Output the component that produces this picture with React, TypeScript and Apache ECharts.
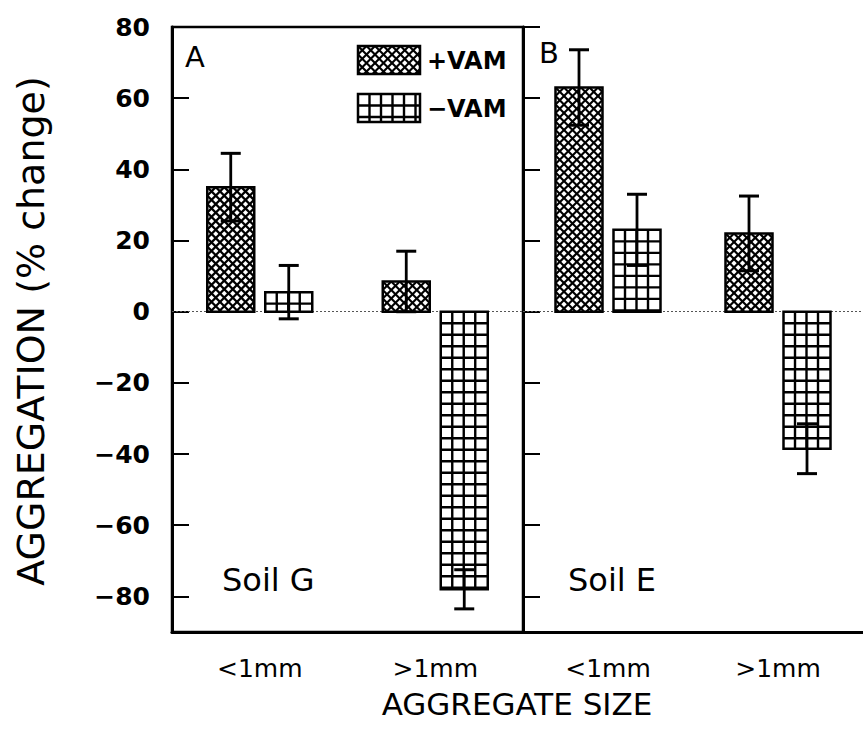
import { useEffect, useRef } from 'react';
import * as echarts from 'echarts';

const categories = ['<1mm', '>1mm'];
const yTickValues = [-80, -60, -40, -20, 0, 20, 40, 60, 80];
const seriesNames = ['+VAM', '−VAM'];
const soilGPlusVam = [35, 8.5];
const soilGPlusVamErr = [9.5, 8.5];
const soilGMinusVam = [5.5, -78];
const soilGMinusVamErr = [7.5, 5.5];
const soilEPlusVam = [63, 22];
const soilEPlusVamErr = [10.6, 10.5];
const soilEMinusVam = [23, -38.5];
const soilEMinusVamErr = [10, 7];
const panelLabels = ['A', 'B'];
const soilLabels = ['Soil G', 'Soil E'];
const xTitle = 'AGGREGATE SIZE';
const yTitle = 'AGGREGATION (% change)';

const FONT = '"DejaVu Sans", "Liberation Sans", sans-serif';
const BAR_WIDTH = 47;
const BAR_GAP = 11;
const BAR_OFFSET = (BAR_WIDTH + BAR_GAP) / 2;
const CAP = 10;
const DIAG_PERIOD = 8.5;
const GRID_PERIOD = 11.5;

type Pattern = 'cross' | 'grid';

function line(x1: number, y1: number, x2: number, y2: number, w: number) {
  return { type: 'line', shape: { x1, y1, x2, y2 }, style: { stroke: '#000', lineWidth: w } };
}

// pattern lines clipped analytically to the rectangle
function patternRect(x0: number, y0: number, w: number, h: number, kind: Pattern) {
  const out: any[] = [{ type: 'rect', shape: { x: x0, y: y0, width: w, height: h }, style: { fill: '#fff', stroke: null } }];
  if (kind === 'grid') {
    for (let u = GRID_PERIOD; u < w - 1; u += GRID_PERIOD) out.push(line(x0 + u, y0, x0 + u, y0 + h, 2.4));
    for (let v = GRID_PERIOD; v < h - 1; v += GRID_PERIOD) out.push(line(x0, y0 + v, x0 + w, y0 + v, 2.4));
  } else {
    const P = DIAG_PERIOD;
    // u - v = c
    for (let c = -Math.ceil(h / P) * P; c <= w; c += P) {
      const uStart = Math.max(0, c);
      const uEnd = Math.min(w, h + c);
      if (uEnd > uStart) out.push(line(x0 + uStart, y0 + uStart - c, x0 + uEnd, y0 + uEnd - c, 2.2));
    }
    // u + v = c
    for (let c = 0; c <= w + h; c += P) {
      const uStart = Math.max(0, c - h);
      const uEnd = Math.min(w, c);
      if (uEnd > uStart) out.push(line(x0 + uStart, y0 + c - uStart, x0 + uEnd, y0 + c - uEnd, 2.2));
    }
  }
  out.push({ type: 'rect', shape: { x: x0, y: y0, width: w, height: h }, style: { fill: null, stroke: '#000', lineWidth: 2.5 } });
  return out;
}

function barSeries(name: string, gridIdx: number, values: number[], kind: Pattern, side: number, withZero: boolean) {
  const s: any = {
    type: 'custom',
    name,
    xAxisIndex: gridIdx,
    yAxisIndex: gridIdx,
    z: 3,
    encode: { x: 0, y: 1 },
    data: values.map((v, i) => [i, v]),
    renderItem: (_params: any, api: any) => {
      const cat = api.value(0);
      const base = api.coord([cat, 0]);
      const end = api.coord([cat, api.value(1)]);
      const cx = base[0] + side * BAR_OFFSET;
      const y0 = Math.min(base[1], end[1]);
      const h = Math.abs(base[1] - end[1]);
      return { type: 'group', children: patternRect(cx - BAR_WIDTH / 2, y0, BAR_WIDTH, h, kind) };
    },
  };
  if (withZero) {
    s.markLine = {
      silent: true,
      symbol: ['none', 'none'],
      label: { show: false },
      lineStyle: { type: [2, 2], color: '#555', width: 1 },
      data: [{ yAxis: 0 }],
      z: 1,
    };
  }
  return s;
}

function errorSeries(gridIdx: number, means: number[], errs: number[], side: number) {
  return {
    type: 'custom',
    name: 'err',
    xAxisIndex: gridIdx,
    yAxisIndex: gridIdx,
    z: 5,
    encode: { x: 0, y: [1, 2] },
    data: means.map((m, i) => [i, m - errs[i], m + errs[i]]),
    renderItem: (_params: any, api: any) => {
      const cat = api.value(0);
      const lo = api.coord([cat, api.value(1)]);
      const hi = api.coord([cat, api.value(2)]);
      const x = lo[0] + side * BAR_OFFSET;
      return {
        type: 'group',
        children: [
          line(x, hi[1], x, lo[1], 2.8),
          line(x - CAP, hi[1], x + CAP, hi[1], 3),
          line(x - CAP, lo[1], x + CAP, lo[1], 3),
        ],
      };
    },
  };
}

function yAxis(gridIdx: number, showLabels: boolean) {
  return {
    type: 'value',
    gridIndex: gridIdx,
    min: -90,
    max: 80,
    axisLine: { show: true, lineStyle: { color: '#000', width: 3 } },
    axisTick: { show: true, inside: true, length: 17, lineStyle: { color: '#000', width: 2 }, customValues: yTickValues },
    axisLabel: {
      show: showLabels,
      customValues: yTickValues,
      margin: 22,
      color: '#000',
      fontFamily: FONT,
      fontSize: 25,
      fontWeight: 'bold',
      formatter: (v: number) => (v < 0 ? '−' + Math.abs(v) : String(v)),
    },
    splitLine: { show: false },
  };
}

function xAxis(gridIdx: number) {
  return {
    type: 'category',
    gridIndex: gridIdx,
    data: categories,
    position: 'bottom',
    axisLine: { show: true, onZero: false, lineStyle: { color: '#000', width: 3 } },
    axisTick: { show: false },
    axisLabel: { margin: 24, color: '#000', fontFamily: FONT, fontSize: 25 },
    splitLine: { show: false },
  };
}

export default function App() {
  const ref = useRef<HTMLDivElement>(null);
  useEffect(() => {
    if (!ref.current) return;
    const chart = echarts.init(ref.current, null, { renderer: 'svg' });
    const textStyle = (size: number, weight = 'normal') => ({
      font: `${weight} ${size}px ${FONT}`,
      fill: '#000',
    });
    const legendItems = seriesNames.map((name, i) => ({
      type: 'group',
      x: 358,
      y: 46 + i * 48,
      children: [
        ...patternRect(0, 0, 62, 28, i === 0 ? 'cross' : 'grid'),
        { type: 'text', x: 69, y: 15, style: { ...textStyle(24, 'bold'), text: name, textAlign: 'left', textVerticalAlign: 'middle' } },
      ],
    }));
    chart.setOption({
      animation: false,
      backgroundColor: '#ffffff',
      grid: [
        { left: 172, top: 27, width: 351, height: 605, show: true, borderColor: '#000', borderWidth: 2.5, backgroundColor: 'transparent' },
        { left: 523, top: 27, width: 351, height: 605 },
      ],
      xAxis: [xAxis(0), xAxis(1)],
      yAxis: [yAxis(0, true), yAxis(1, false)],
      series: [
        barSeries(seriesNames[0], 0, soilGPlusVam, 'cross', -1, true),
        barSeries(seriesNames[1], 0, soilGMinusVam, 'grid', 1, false),
        barSeries(seriesNames[0], 1, soilEPlusVam, 'cross', -1, true),
        barSeries(seriesNames[1], 1, soilEMinusVam, 'grid', 1, false),
        errorSeries(0, soilGPlusVam, soilGPlusVamErr, -1),
        errorSeries(0, soilGMinusVam, soilGMinusVamErr, 1),
        errorSeries(1, soilEPlusVam, soilEPlusVamErr, -1),
        errorSeries(1, soilEMinusVam, soilEMinusVamErr, 1),
      ],
      graphic: [
        ...legendItems,
        { type: 'text', x: 31, y: 331, rotation: Math.PI / 2, style: { ...textStyle(38), text: yTitle, textAlign: 'center', textVerticalAlign: 'middle' } },
        { type: 'text', x: 517, y: 704, style: { ...textStyle(31), text: xTitle, textAlign: 'center', textVerticalAlign: 'middle' } },
        { type: 'text', x: 185, y: 57, style: { ...textStyle(29), text: panelLabels[0], textAlign: 'left', textVerticalAlign: 'middle' } },
        { type: 'text', x: 539, y: 53, style: { ...textStyle(29), text: panelLabels[1], textAlign: 'left', textVerticalAlign: 'middle' } },
        { type: 'text', x: 222, y: 580, style: { ...textStyle(32), text: soilLabels[0], textAlign: 'left', textVerticalAlign: 'middle' } },
        { type: 'text', x: 568, y: 580, style: { ...textStyle(32), text: soilLabels[1], textAlign: 'left', textVerticalAlign: 'middle' } },
      ],
    });
    return () => chart.dispose();
  }, []);
  return <div ref={ref} style={{ position: 'absolute', left: 0, top: 0, width: 863, height: 733 }} />;
}
